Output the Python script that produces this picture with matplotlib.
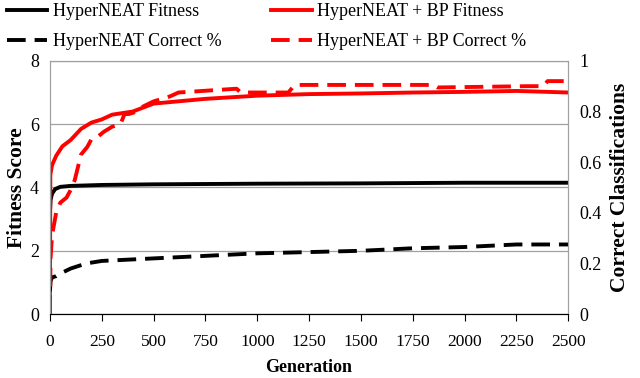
import numpy as np
import matplotlib
matplotlib.use("Agg")
import matplotlib.pyplot as plt
from matplotlib.lines import Line2D

plt.rcParams["font.family"] = ["Liberation Serif", "DejaVu Serif"]

# HyperNEAT fitness (left axis)
hn_fit_gen = [0, 3, 10, 25, 50, 100, 250, 500, 1000, 1500, 2000, 2500]
hn_fit_val = [3.2, 3.6, 3.8, 3.95, 4.02, 4.05, 4.08, 4.1, 4.12, 4.13, 4.15, 4.15]

# HyperNEAT correct fraction (right axis)
hn_cor_gen = [0, 3, 10, 30, 50, 100, 175, 250, 500, 750, 1000, 1250, 1500, 1750, 2000, 2250, 2500]
hn_cor_val = [0.09, 0.13, 0.145, 0.15, 0.16, 0.18, 0.2, 0.21, 0.22, 0.23, 0.24, 0.245, 0.25, 0.26, 0.265, 0.275, 0.275]

# HyperNEAT + BP fitness (left axis)
bp_fit_gen = [0, 2, 10, 30, 60, 100, 150, 200, 250, 300, 400, 500, 750, 1000, 1250, 1500, 1750, 2000, 2250, 2500]
bp_fit_val = [0, 4.4, 4.7, 5.0, 5.3, 5.5, 5.85, 6.05, 6.15, 6.3, 6.4, 6.65, 6.8, 6.9, 6.95, 6.97, 7.0, 7.02, 7.05, 7.0]

# HyperNEAT + BP correct fraction (right axis)
bp_cor_gen = [0, 3, 10, 30, 50, 80, 100, 120, 150, 180, 200, 230, 260, 300, 340, 360, 380, 420,
              450, 500, 580, 620, 900, 920, 1150, 1180, 1850, 1870, 2300, 2380, 2400, 2500]
bp_cor_val = [0.0, 0.22, 0.31, 0.4, 0.44, 0.46, 0.49, 0.53, 0.63, 0.66, 0.69, 0.7, 0.72, 0.74, 0.75, 0.79, 0.79, 0.8,
              0.82, 0.84, 0.86, 0.875, 0.89, 0.875, 0.875, 0.905, 0.905, 0.895, 0.9, 0.9, 0.92, 0.92]

fig = plt.figure(figsize=(6.4, 3.78), dpi=100)
ax = fig.add_axes([0.078, 0.169, 0.81, 0.67])
ax2 = ax.twinx()

lw = 2.8
dash = (4.8, 2.3)
ax.plot(hn_fit_gen, hn_fit_val, color="black", lw=lw)
ax.plot(bp_fit_gen, bp_fit_val, color="#ff0000", lw=lw)
ax2.plot(hn_cor_gen, hn_cor_val, color="black", lw=lw, dashes=dash)
ax2.plot(bp_cor_gen, bp_cor_val, color="#ff0000", lw=lw, dashes=dash)

ax.set_xlim(0, 2500)
ax.set_ylim(0, 8)
ax2.set_ylim(0, 1)
ax.set_xticks(np.arange(0, 2501, 250))
ax.set_yticks([0, 2, 4, 6, 8])
ax2.set_yticks([0, 0.2, 0.4, 0.6, 0.8, 1])
ax2.set_yticklabels(["0", "0.2", "0.4", "0.6", "0.8", "1"])
ax.yaxis.grid(True, color="#a0a0a0", lw=0.9)
ax.set_axisbelow(True)

for a in (ax, ax2):
    for s in a.spines.values():
        s.set_color("#a0a0a0")
    a.spines["bottom"].set_color("black")
    a.tick_params(axis="y", length=0, labelsize=13, pad=8)
ax.tick_params(axis="x", direction="out", length=5, labelsize=12.5, pad=9)

ax.set_xlabel("Generation", fontsize=13, fontweight="bold", labelpad=7)
ax.set_ylabel("Fitness Score", fontsize=15.5, fontweight="bold", labelpad=2)
ax2.set_ylabel("Correct Classifications", fontsize=15.5, fontweight="bold", labelpad=6)

handles = [
    Line2D([], [], color="black", lw=lw),
    Line2D([], [], color="black", lw=lw, dashes=dash),
    Line2D([], [], color="#ff0000", lw=lw),
    Line2D([], [], color="#ff0000", lw=lw, dashes=dash),
]
labels = ["HyperNEAT Fitness", "HyperNEAT Correct %",
          "HyperNEAT + BP Fitness", "HyperNEAT + BP Correct %"]
fig.legend(handles, labels, loc="upper left", bbox_to_anchor=(-0.015, 1.035), ncol=2,
           frameon=False, fontsize=13, handlelength=2.25, columnspacing=2.75,
           handletextpad=0.3, labelspacing=0.72)

fig.savefig("out.png", dpi=100)
